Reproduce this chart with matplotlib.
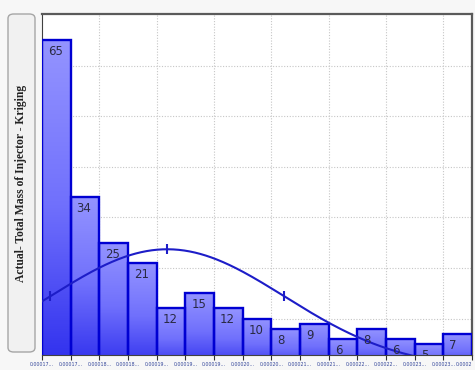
import numpy as np
import matplotlib
matplotlib.use("Agg")
import matplotlib.pyplot as plt
from matplotlib.patches import FancyBboxPatch
from matplotlib.colors import LinearSegmentedColormap

# Histogram counts per bin
counts = [65, 34, 25, 21, 12, 15, 12, 10, 8, 9, 6, 8, 6, 5, 7]
# Bin edge labels (truncated values of the bin boundaries)
edge_labels = ["0.00017...", "0.00017...", "0.00018...", "0.00018...",
               "0.00019...", "0.00019...", "0.00019...", "0.00020...",
               "0.00020...", "0.00021...", "0.00021...", "0.00022...",
               "0.00022...", "0.00023...", "0.00023...", "0.0002"]
y_label = "Actual- Total Mass of Injector - Kriging"

n_bins = len(counts)
idx = np.arange(n_bins)
y_min, y_max = 2.8, 70.2

fig = plt.figure(figsize=(4.75, 3.7), dpi=100, facecolor="#f7f7f7")
ax = fig.add_axes([42 / 475, 15 / 370, 430 / 475, 341 / 370])
ax.set_facecolor("white")

# Dotted grid
for gx in range(2, n_bins, 2):
    ax.axvline(gx, color="#c6c6c6", lw=0.8, ls=(0, (1, 1.5)), zorder=0)
for gy in range(10, 70, 10):
    ax.axhline(gy, color="#c6c6c6", lw=0.8, ls=(0, (1, 1.5)), zorder=0)

# Bars with vertical gradient fill
cmap = LinearSegmentedColormap.from_list(
    "barfill", [(0.18, 0.18, 0.93), (0.44, 0.44, 0.99), (0.58, 0.58, 1.0)])
bars = ax.bar(idx, counts, width=1.0, align="edge", facecolor="none",
              edgecolor="#0000d2", linewidth=1.7, zorder=3)
for b in bars:
    x0, w, h = b.get_x(), b.get_width(), b.get_height()
    # gradient over the visible part of the bar only
    grad = np.linspace(y_min / h, 1, 256).reshape(-1, 1)
    im = ax.imshow(grad, cmap=cmap, vmin=0, vmax=1, origin="lower",
                   aspect="auto", extent=[x0, x0 + w, y_min, h],
                   zorder=2, interpolation="bicubic")
    im.set_clip_path(b)

# Count labels at top-left inside each bar
for i, v in enumerate(counts):
    ax.annotate(str(v), xy=(i, v), xytext=(6, -5), textcoords="offset pixels",
                ha="left", va="top", fontsize=8.5, color="#2a2a44",
                family="DejaVu Sans", zorder=5, annotation_clip=True,
                clip_on=True)

# Fitted normal curve from the histogram
centers = idx + 0.5
c = np.asarray(counts, dtype=float)
N = c.sum()
mu = (c * centers).sum() / N
sd = np.sqrt((c * (centers - mu) ** 2).sum() / N)
xs = np.linspace(0, n_bins, 400)
pdf = lambda x: N / (sd * np.sqrt(2 * np.pi)) * np.exp(-0.5 * ((x - mu) / sd) ** 2)
ax.plot(xs, pdf(xs), color="#1d1dc8", lw=1.5, zorder=4)
mk = np.array([mu - sd, mu, mu + sd])
ax.plot(mk, pdf(mk), ls="none", marker="|", ms=7, mew=1.5, color="#1d1dc8", zorder=4)

ax.set_xlim(0, n_bins)
ax.set_ylim(y_min, y_max)

# Axes styling
ax.set_xticks(np.arange(n_bins + 1))
ax.set_xticklabels(edge_labels, fontsize=3.4, color="#34469a")
ax.get_xticklabels()[-1].set_horizontalalignment("right")
ax.tick_params(axis="x", length=3.5, width=0.8, color="#303030", pad=1.5)
ax.set_yticks([])
for s in ("top", "right"):
    ax.spines[s].set_color("#5a5a5a")
    ax.spines[s].set_linewidth(1.6)
for s in ("left", "bottom"):
    ax.spines[s].set_color("#404040")
    ax.spines[s].set_linewidth(0.8)

# Y-axis title in a rounded panel
box = FancyBboxPatch((8 / 475, 18 / 370), 27 / 475, 338 / 370,
                     boxstyle="round,pad=0,rounding_size=0.012",
                     transform=fig.transFigure, facecolor="#f1f1f1",
                     edgecolor="#a6a6a6", linewidth=1.0)
fig.patches.append(box)
fig.text(21.5 / 475, (370 - 183) / 370, y_label, rotation=90,
         ha="center", va="center", fontsize=8.4, fontweight="bold",
         family="Liberation Serif", color="#222222")

fig.savefig("out.png", dpi=100, facecolor=fig.get_facecolor())
